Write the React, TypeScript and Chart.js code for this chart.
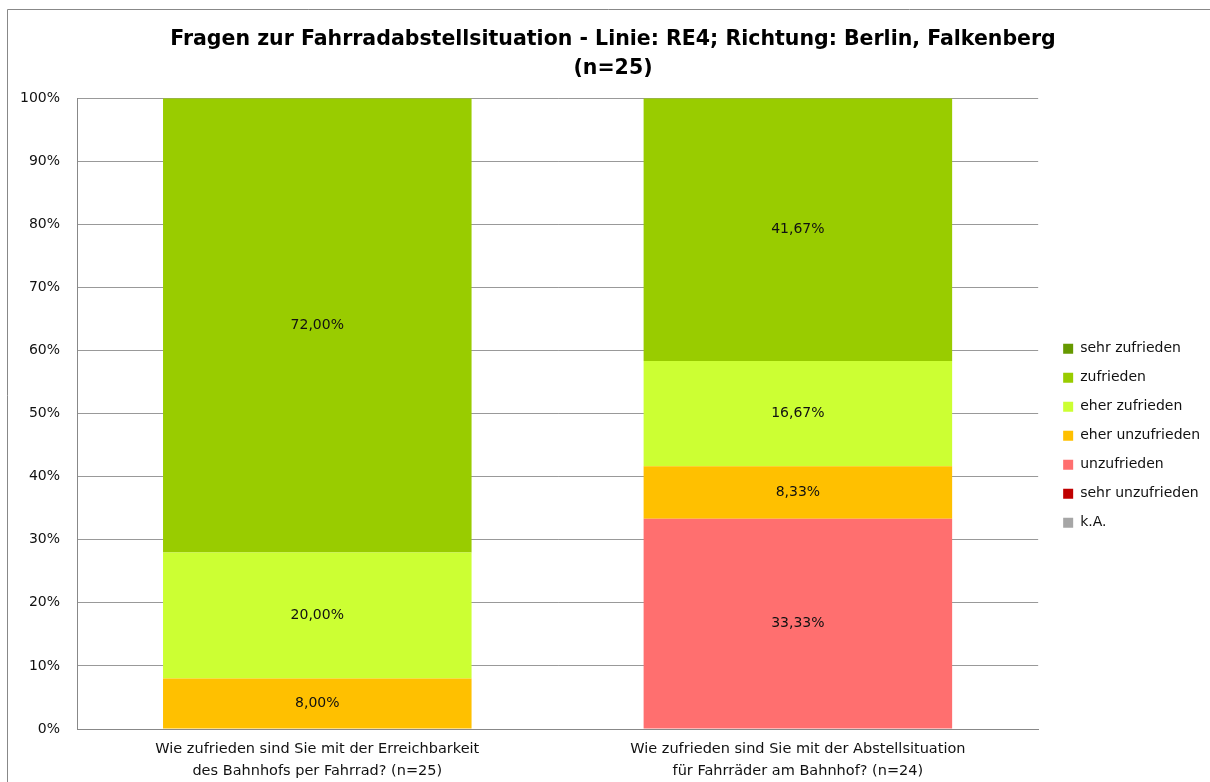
import React, { useEffect, useRef } from "react";
import { Chart, registerables } from "chart.js";

Chart.register(...registerables);

const titleLines = [
  "Fragen zur Fahrradabstellsituation - Linie: RE4; Richtung: Berlin, Falkenberg",
  "(n=25)",
];

const categories = [
  ["Wie zufrieden sind Sie mit der Erreichbarkeit", "des Bahnhofs per Fahrrad? (n=25)"],
  ["Wie zufrieden sind Sie mit der Abstellsituation", "für Fahrräder am Bahnhof? (n=24)"],
];

// stacking order: first = bottom
const seriesNames = [
  "k.A.",
  "sehr unzufrieden",
  "unzufrieden",
  "eher unzufrieden",
  "eher zufrieden",
  "zufrieden",
  "sehr zufrieden",
];

const kA = [0, 0];
const sehrUnzufrieden = [0, 0];
const unzufrieden = [0, 33.33];
const eherUnzufrieden = [8.0, 8.33];
const eherZufrieden = [20.0, 16.67];
const zufrieden = [72.0, 41.67];
const sehrZufrieden = [0, 0];

const seriesValues = [kA, sehrUnzufrieden, unzufrieden, eherUnzufrieden, eherZufrieden, zufrieden, sehrZufrieden];

const seriesColors = ["#A6A6A6", "#C00000", "#FF6F6F", "#FFC000", "#CCFF33", "#99CC00", "#669900"];

const yTicks = [0, 10, 20, 30, 40, 50, 60, 70, 80, 90, 100];

const FONT = "'DejaVu Sans', Verdana, sans-serif";

const frame = {
  id: "frame",
  beforeDraw(chart: any) {
    const ctx = chart.ctx;
    ctx.save();
    ctx.fillStyle = "#fff";
    ctx.fillRect(0, 0, chart.width, chart.height);
    ctx.strokeStyle = "#888";
    ctx.lineWidth = 1;
    ctx.beginPath();
    ctx.moveTo(7.5, chart.height);
    ctx.lineTo(7.5, 9.5);
    ctx.lineTo(chart.width, 9.5);
    ctx.stroke();
    ctx.restore();
  },
};

const valueLabels = {
  id: "valueLabels",
  afterDatasetsDraw(chart: any) {
    const ctx = chart.ctx;
    ctx.save();
    ctx.font = `14px ${FONT}`;
    ctx.fillStyle = "#111";
    ctx.textAlign = "center";
    ctx.textBaseline = "middle";
    chart.data.datasets.forEach((ds: any, i: number) => {
      const meta = chart.getDatasetMeta(i);
      if (meta.hidden) return;
      meta.data.forEach((bar: any, j: number) => {
        const v = ds.data[j];
        if (!v) return;
        const txt = v.toFixed(2).replace(".", ",") + "%";
        ctx.fillText(txt, bar.x, (bar.y + bar.base) / 2);
      });
    });
    ctx.restore();
  },
};

export default function App() {
  const ref = useRef<HTMLCanvasElement>(null);
  useEffect(() => {
    if (!ref.current) return;
    const chart = new Chart(ref.current, {
      type: "bar",
      data: {
        labels: categories,
        datasets: seriesNames.map((name, i) => ({
          label: name,
          data: seriesValues[i],
          backgroundColor: seriesColors[i],
          borderWidth: 0,
          barPercentage: 1,
          categoryPercentage: 0.642,
        })),
      },
      options: {
        animation: false,
        responsive: false,
        maintainAspectRatio: false,
        layout: { padding: { left: 16, right: 0, top: 0, bottom: 0 } },
        plugins: {
          tooltip: { enabled: false },
          title: {
            display: true,
            text: titleLines,
            color: "#000",
            font: { family: FONT, size: 20.5, weight: "bold", lineHeight: 1.42 },
            padding: { top: 25, bottom: 15 },
          },
          legend: {
            position: "right",
            reverse: true,
            title: { display: true, text: " ", padding: { top: 37, bottom: 37 }, font: { size: 13, lineHeight: 1.2 } },
            labels: {
              boxWidth: 10,
              boxHeight: 10,
              padding: 15,
              color: "#111",
              font: { family: FONT, size: 14 },
            },
          },
        },
        scales: {
          x: {
            stacked: true,
            grid: { display: false, drawTicks: false },
            border: { display: true, color: "#888", width: 1 },
            ticks: { color: "#111", font: { family: FONT, size: 14.5, lineHeight: 1.52 }, padding: 9, maxRotation: 0, autoSkip: false },
            afterFit: (s: any) => { s.height = 53; },
          },
          y: {
            stacked: true,
            min: 0,
            max: 100,
            grid: { color: "#999", drawTicks: false },
            border: { display: true, color: "#888", width: 1 },
            ticks: {
              stepSize: 10,
              color: "#111",
              padding: 17,
              font: { family: FONT, size: 14 },
              callback: (v: any) => (yTicks.includes(Number(v)) ? v + "%" : ""),
            },
            afterFit: (s: any) => { s.width = 61; },
          },
          gap: {
            type: "linear",
            position: "right",
            display: true,
            grid: { display: false, drawTicks: false },
            border: { display: false },
            ticks: { display: false },
            afterFit: (s: any) => { s.width = 10; },
          },
        },
      },
      plugins: [frame, valueLabels],
    });
    return () => chart.destroy();
  }, []);
  return (
    <div style={{ position: "fixed", left: 0, top: 0, width: 1210, height: 782, background: "#fff", overflow: "hidden" }}>
      <canvas ref={ref} width={1210} height={782} style={{ display: "block", width: 1210, height: 782 }} />
    </div>
  );
}
